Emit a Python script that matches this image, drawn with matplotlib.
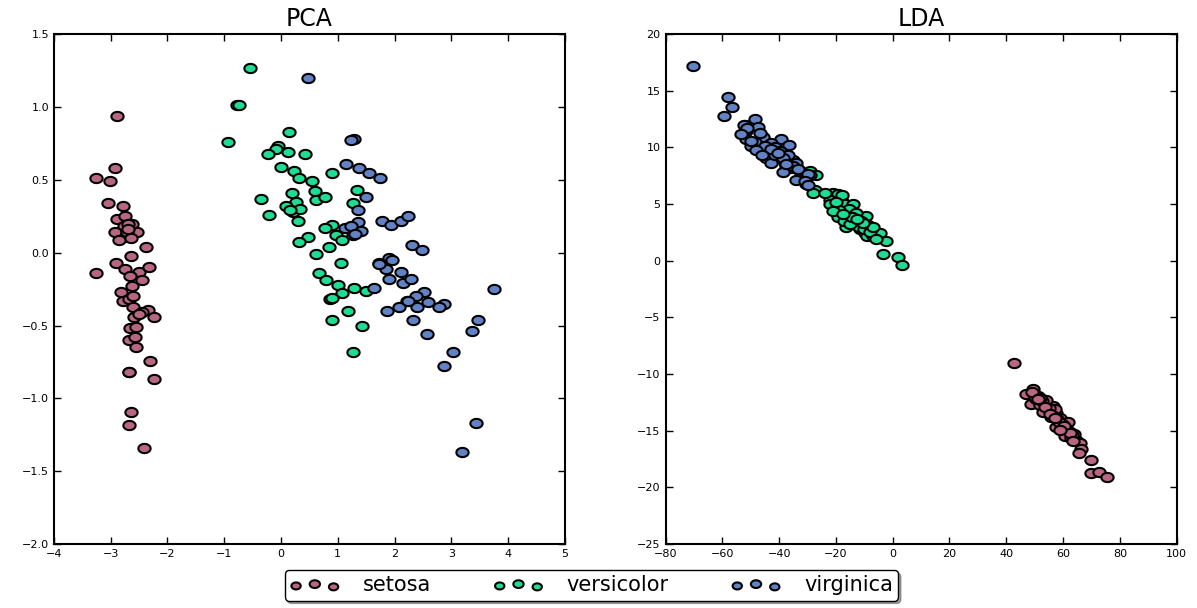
import numpy as np
import matplotlib.pyplot as plt
from matplotlib.path import Path
from matplotlib.legend_handler import HandlerPathCollection

# valores (proyeccion PCA)
pca_setosa_x = [-2.88, -2.92, -3.26, -3.01, -3.04, -2.78, -2.88, -2.75, -2.62, -2.76,
                -2.93, -2.53, -2.69, -2.85, -2.38, -2.65, -2.90, -3.25, -2.75, -2.50,
                -2.32, -2.66, -2.44, -2.62, -2.82, -2.78, -2.67, -2.60, -2.34, -2.44,
                -2.59, -2.24, -2.66, -2.56, -2.68, -2.57, -2.55, -2.31, -2.68, -2.23,
                -2.64, -2.68, -2.42, -2.70, -2.72, -2.64, -2.67, -2.60, -2.70, -2.50]
pca_setosa_y = [0.94, 0.58, 0.51, 0.49, 0.34, 0.32, 0.23, 0.25, 0.20, 0.18,
                0.14, 0.14, 0.11, 0.09, 0.04, -0.02, -0.07, -0.14, -0.11, -0.13,
                -0.10, -0.16, -0.19, -0.23, -0.27, -0.33, -0.32, -0.37, -0.39, -0.41,
                -0.44, -0.44, -0.52, -0.51, -0.60, -0.58, -0.65, -0.74, -0.82, -0.87,
                -1.09, -1.18, -1.34, 0.20, 0.14, 0.10, -0.82, -0.30, 0.16, -0.42]

pca_versicolor_x = [-0.55, -0.78, -0.74, 0.14, -0.94, -0.05, -0.09, -0.23, 0.13, 0.42,
                    0.00, 0.23, 0.90, 0.32, 0.55, 0.20, 0.60, -0.35, 0.27, 0.62,
                    0.77, 0.09, 0.21, 0.34, -0.21, 0.30, 0.90, 0.77, 0.96, 1.08,
                    0.48, 0.32, 0.85, 0.61, 1.34, 1.26, 1.05, 0.67, 0.79, 1.01,
                    1.29, 1.50, 1.07, 0.86, 0.89, 1.18, 0.89, 1.43, 1.26, 0.15]
pca_versicolor_y = [1.27, 1.01, 1.01, 0.83, 0.76, 0.73, 0.71, 0.68, 0.69, 0.68,
                    0.59, 0.56, 0.55, 0.51, 0.49, 0.41, 0.42, 0.37, 0.35, 0.36,
                    0.38, 0.32, 0.28, 0.30, 0.26, 0.22, 0.19, 0.17, 0.12, 0.09,
                    0.11, 0.07, 0.04, -0.01, 0.43, 0.34, -0.07, -0.14, -0.19, -0.22,
                    -0.24, -0.26, -0.28, -0.32, -0.31, -0.40, -0.46, -0.50, -0.68, 0.29]

pca_virginica_x = [0.48, 1.29, 1.24, 1.15, 1.37, 1.55, 1.74, 1.49, 1.36, 1.36,
                   1.77, 1.93, 2.11, 2.24, 1.13, 1.23, 1.40, 1.26, 2.30, 2.49,
                   1.90, 1.73, 1.84, 2.11, 1.91, 2.14, 2.28, 1.63, 2.52, 2.37,
                   2.22, 2.58, 2.87, 2.07, 2.40, 2.79, 1.87, 2.33, 2.57, 2.87,
                   3.75, 3.46, 3.36, 3.03, 3.44, 3.19, 1.95, 1.31, 2.24, 1.72]
pca_virginica_y = [1.20, 0.78, 0.77, 0.61, 0.58, 0.55, 0.51, 0.38, 0.29, 0.21,
                   0.22, 0.19, 0.22, 0.25, 0.17, 0.18, 0.15, 0.12, 0.05, 0.02,
                   -0.04, -0.07, -0.11, -0.13, -0.18, -0.21, -0.18, -0.24, -0.27, -0.30,
                   -0.33, -0.34, -0.35, -0.37, -0.37, -0.37, -0.40, -0.46, -0.56, -0.78,
                   -0.25, -0.46, -0.54, -0.68, -1.17, -1.37, -0.05, 0.13, -0.33, -0.08]

# valores (proyeccion LDA)
lda_setosa_x = [42.6, 49.4, 47.1, 51.2, 48.8, 51.8, 54.7, 56.5, 53.0, 57.6,
                55.9, 58.8, 61.2, 57.6, 60.0, 62.3, 60.6, 62.9, 64.7, 65.8,
                66.4, 65.6, 70.0, 70.0, 72.5, 75.5, 50.6, 54.1, 57.0, 61.8,
                64.0, 50.0, 52.5, 55.0, 58.0, 59.5, 61.0, 63.0, 49.0, 53.5,
                56.0, 58.5, 60.5, 62.5, 52.0, 55.5, 59.0, 63.5, 51.0, 57.0]
lda_setosa_y = [-9.0, -11.3, -11.75, -11.9, -12.6, -12.7, -12.9, -12.8, -13.3, -13.4,
                -13.8, -13.9, -14.5, -14.7, -15.0, -15.1, -15.5, -15.6, -15.8, -16.1,
                -16.6, -17.0, -17.6, -18.7, -18.6, -19.1, -12.2, -12.3, -13.1, -14.2,
                -15.3, -12.0, -12.4, -13.0, -14.0, -14.4, -14.8, -15.4, -11.6, -12.9,
                -13.6, -14.2, -14.6, -15.2, -12.1, -13.5, -14.9, -15.9, -12.2, -13.9]

lda_versicolor_x = [-29.2, -26.9, -27.5, -21.0, -28.1, -19.2, -22.2, -18.3, -20.4, -16.9,
                    -18.0, -15.1, -19.2, -16.3, -9.5, -12.8, -16.3, -8.7, -11.6, -7.5,
                    -9.9, -9.0, -6.9, -4.6, -2.5, -3.4, 1.9, 3.3, -13.9, -15.4,
                    -17.0, -14.0, -12.0, -10.0, -13.0, -22.0, -18.0, -8.0, -6.0, -11.0,
                    -15.0, -19.0, -24.0, -21.0, -7.0, -14.5, -10.5, -17.5, -12.5, -20.0]
lda_versicolor_y = [7.93, 7.55, 6.23, 6.02, 6.02, 5.87, 5.35, 5.43, 4.93, 4.99,
                    4.32, 4.26, 3.82, 3.82, 3.96, 3.29, 3.00, 3.17, 2.79, 2.88,
                    2.49, 2.20, 2.20, 2.49, 1.76, 0.59, 0.35, -0.35, 5.00, 4.60,
                    3.50, 3.60, 3.00, 2.80, 4.20, 5.00, 5.80, 2.50, 1.90, 3.50,
                    3.20, 4.50, 6.00, 4.40, 3.00, 3.90, 3.30, 4.10, 3.70, 5.20]

lda_virginica_x = [-70.4, -58.0, -56.6, -59.5, -48.6, -52.1, -47.4, -51.5, -45.7, -51.5,
                   -39.2, -48.6, -42.7, -49.8, -36.5, -41.5, -39.8, -43.9, -44.5, -39.8,
                   -42.7, -38.0, -35.1, -37.4, -35.7, -33.9, -38.8, -32.7, -29.2, -33.9,
                   -30.4, -52.5, -51.3, -46.8, -41.5, -36.9, -38.6, -35.1, -37.4, -33.3,
                   -29.8, -31.0, -29.8, -53.5, -50.0, -45.0, -48.0, -43.0, -40.5, -46.0]
lda_virginica_y = [17.2, 14.48, 13.6, 12.75, 12.48, 11.95, 11.83, 11.45, 10.95, 10.78,
                   10.78, 10.48, 10.37, 10.13, 10.19, 10.07, 9.69, 9.49, 9.10, 9.10,
                   8.66, 8.61, 8.90, 8.22, 8.22, 8.61, 7.87, 7.93, 7.55, 7.11,
                   6.76, 12.0, 11.7, 11.3, 9.31, 9.31, 9.10, 8.37, 8.52, 8.08,
                   7.64, 7.05, 6.70, 11.2, 10.6, 10.1, 9.8, 9.9, 9.5, 9.3]

nombres = ['setosa', 'versicolor', 'virginica']
colores = ['#b86682', '#1fdc94', '#6182c4']

# marcador eliptico (la imagen original esta estirada en horizontal)
t = np.linspace(0, 2 * np.pi, 40)
elipse = Path(np.column_stack([1.33 * np.cos(t), np.sin(t)]), closed=True)

fig = plt.figure(figsize=(11.97, 6.08), dpi=100)
ax1 = fig.add_axes([0.045, 0.105, 0.427, 0.839])
ax2 = fig.add_axes([0.556, 0.105, 0.427, 0.839])

pca = [(pca_setosa_x, pca_setosa_y), (pca_versicolor_x, pca_versicolor_y),
       (pca_virginica_x, pca_virginica_y)]
lda = [(lda_setosa_x, lda_setosa_y), (lda_versicolor_x, lda_versicolor_y),
       (lda_virginica_x, lda_virginica_y)]

handles = []
for (x, y), c, n in zip(pca, colores, nombres):
    h = ax1.scatter(x, y, s=78, c=c, marker=elipse, edgecolors='black', linewidths=1.5, label=n)
    handles.append(h)
for (x, y), c in zip(lda, colores):
    ax2.scatter(x, y, s=78, c=c, marker=elipse, edgecolors='black', linewidths=1.5)

ax1.set_xlim(-4, 5)
ax1.set_ylim(-2.0, 1.5)
ax1.set_xticks(range(-4, 6))
ax1.set_yticks(np.arange(-2.0, 1.51, 0.5))
ax2.set_xlim(-80, 100)
ax2.set_ylim(-25, 20)
ax2.set_xticks(range(-80, 101, 20))
ax2.set_yticks(range(-25, 21, 5))

for ax, titulo in [(ax1, 'PCA'), (ax2, 'LDA')]:
    ax.set_title(titulo, fontsize=17)
    ax.tick_params(direction='in', top=True, right=True, labelsize=8, length=5, width=1)
    for s in ax.spines.values():
        s.set_linewidth(1.5)

fig.legend(handles=handles, loc='lower center', bbox_to_anchor=(0.494, -0.005), ncol=3,
           fontsize=15, scatterpoints=3, scatteryoffsets=[0.375, 0.5, 0.3125],
           handler_map={h: HandlerPathCollection(sizes=[45, 55, 45]) for h in handles},
           fancybox=True, shadow=True, framealpha=1, edgecolor='black',
           columnspacing=3.0, handlelength=2.4, handletextpad=1.1, borderpad=0.25)

fig.savefig('out.png', dpi=100)
